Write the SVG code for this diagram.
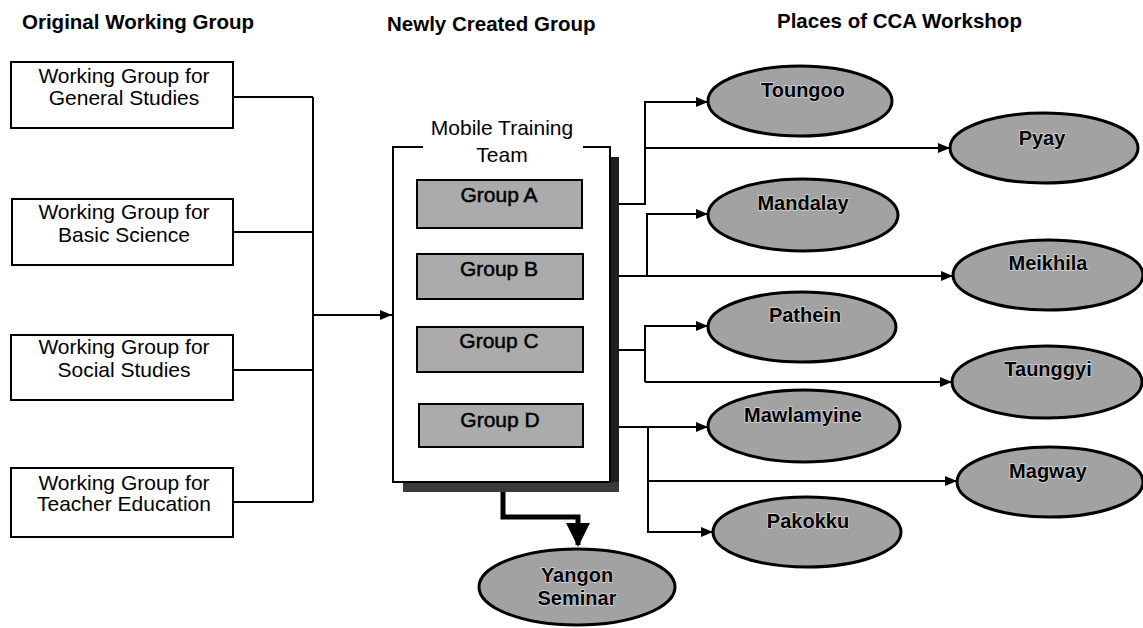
<svg xmlns="http://www.w3.org/2000/svg" width="1143" height="628" viewBox="0 0 1143 628">
  <style>
    .head { font-family: "Liberation Sans", Arial, sans-serif; font-weight: bold; font-size: 20.5px; fill: #000; }
    .wg { font-family: "Liberation Sans", Arial, sans-serif; font-size: 21px; fill: #000; text-anchor: middle; }
    .box { fill: #fff; stroke: #000; stroke-width: 2; }
    .grp { fill: #ababab; stroke: #000; stroke-width: 2; }
    .grpt { font-family: "Liberation Sans", Arial, sans-serif; font-size: 21px; fill: #000; stroke: #000; stroke-width: 0.5; text-anchor: middle; }
    .place { fill: #a2a2a2; stroke: #000; stroke-width: 3; }
    .placet { font-family: "Liberation Sans", Arial, sans-serif; font-weight: bold; font-size: 20px; fill: #000; text-anchor: middle; stroke: #d8d8d8; stroke-width: 1.5; paint-order: stroke; }
    .link { fill: none; stroke: #000; stroke-width: 2; }
    .thick { fill: none; stroke: #000; stroke-width: 5; }
  </style>
  <defs>
    <marker id="arrow" viewBox="0 0 12 10" refX="12" refY="5" markerWidth="12" markerHeight="10" markerUnits="userSpaceOnUse" orient="auto">
      <path d="M0,0 L12,5 L0,10 Z" fill="#000"/>
    </marker>
    <marker id="bigArrow" viewBox="0 0 24 24" refX="22" refY="12" markerWidth="24" markerHeight="24" markerUnits="userSpaceOnUse" orient="auto">
      <path d="M0,0 L24,12 L0,24 Z" fill="#000"/>
    </marker>
  </defs>

  <!-- column headings -->
  <g id="headings">
    <text class="head" x="22" y="29">Original Working Group</text>
    <text class="head" x="387" y="31">Newly Created Group</text>
    <text class="head" x="777" y="28">Places of CCA Workshop</text>
  </g>

  <!-- connectors -->
  <g id="connectors">
    <!-- working groups merge into the training team -->
    <path class="link" d="M233,97 H313 M233,232 H313 M233,370 H313 M233,502 H313 M313,97 V502"/>
    <path class="link" d="M313,315 H392" marker-end="url(#arrow)"/>
    <!-- Group A -->
    <path class="link" d="M582,204 H645 V102 H708" marker-end="url(#arrow)"/>
    <path class="link" d="M645,148 H950" marker-end="url(#arrow)"/>
    <!-- Group B -->
    <path class="link" d="M583,276 H953" marker-end="url(#arrow)"/>
    <path class="link" d="M647,276 V214 H708" marker-end="url(#arrow)"/>
    <!-- Group C -->
    <path class="link" d="M583,350 H645"/>
    <path class="link" d="M645,382 V326 H708" marker-end="url(#arrow)"/>
    <path class="link" d="M645,382 H952" marker-end="url(#arrow)"/>
    <!-- Group D -->
    <path class="link" d="M583,427 H708" marker-end="url(#arrow)"/>
    <path class="link" d="M648,427 V532 H713" marker-end="url(#arrow)"/>
    <path class="link" d="M648,481 H957" marker-end="url(#arrow)"/>
    <!-- team to seminar -->
    <path class="thick" d="M503,482 V517 H578 V545" marker-end="url(#bigArrow)"/>
  </g>

  <!-- original working groups -->
  <g id="wg-general">
    <rect class="box" x="11" y="62" width="222" height="66"/>
    <text class="wg" x="124" y="83">Working Group for</text>
    <text class="wg" x="124" y="105">General Studies</text>
  </g>
  <g id="wg-science">
    <rect class="box" x="12" y="199" width="221" height="66"/>
    <text class="wg" x="124" y="219">Working Group for</text>
    <text class="wg" x="124" y="242">Basic Science</text>
  </g>
  <g id="wg-social">
    <rect class="box" x="11" y="335" width="222" height="65"/>
    <text class="wg" x="124" y="354">Working Group for</text>
    <text class="wg" x="124" y="377">Social Studies</text>
  </g>
  <g id="wg-teacher">
    <rect class="box" x="11" y="468" width="222" height="69"/>
    <text class="wg" x="124" y="490">Working Group for</text>
    <text class="wg" x="124" y="511">Teacher Education</text>
  </g>

  <!-- mobile training team container -->
  <g id="mobile-team">
    <rect x="610" y="157" width="9" height="335" fill="#1e1e1e"/>
    <rect x="403" y="482" width="216" height="10" fill="#3a3a3a"/>
    <rect x="393" y="147" width="217" height="335" fill="#fff"/>
    <path class="link" d="M423,147 H393 V482 H610 V147 H583"/>
    <text class="wg" x="502" y="135">Mobile Training</text>
    <text class="wg" x="502" y="162">Team</text>
  </g>
  <g id="group-a">
    <rect class="grp" x="417" y="180" width="165" height="48"/>
    <text class="grpt" x="499" y="202">Group A</text>
  </g>
  <g id="group-b">
    <rect class="grp" x="417" y="254" width="166" height="45"/>
    <text class="grpt" x="499" y="276">Group B</text>
  </g>
  <g id="group-c">
    <rect class="grp" x="417" y="327" width="166" height="45"/>
    <text class="grpt" x="499" y="348">Group C</text>
  </g>
  <g id="group-d">
    <rect class="grp" x="419" y="404" width="164" height="43"/>
    <text class="grpt" x="500" y="427">Group D</text>
  </g>

  <!-- workshop places -->
  <g id="toungoo">
    <ellipse class="place" cx="800" cy="101" rx="92" ry="35"/>
    <text class="placet" x="803" y="97">Toungoo</text>
  </g>
  <g id="pyay">
    <ellipse class="place" cx="1044" cy="148" rx="94" ry="35"/>
    <text class="placet" x="1042" y="145">Pyay</text>
  </g>
  <g id="mandalay">
    <ellipse class="place" cx="803" cy="215" rx="95" ry="36"/>
    <text class="placet" x="803" y="210">Mandalay</text>
  </g>
  <g id="meikhila">
    <ellipse class="place" cx="1048" cy="275" rx="95" ry="35"/>
    <text class="placet" x="1048" y="270">Meikhila</text>
  </g>
  <g id="pathein">
    <ellipse class="place" cx="802" cy="327" rx="94" ry="35"/>
    <text class="placet" x="805" y="322">Pathein</text>
  </g>
  <g id="taunggyi">
    <ellipse class="place" cx="1047" cy="382" rx="95" ry="36"/>
    <text class="placet" x="1048" y="376">Taunggyi</text>
  </g>
  <g id="mawlamyine">
    <ellipse class="place" cx="804" cy="426" rx="96" ry="36"/>
    <text class="placet" x="803" y="422">Mawlamyine</text>
  </g>
  <g id="magway">
    <ellipse class="place" cx="1050" cy="482" rx="93" ry="35"/>
    <text class="placet" x="1048" y="478">Magway</text>
  </g>
  <g id="pakokku">
    <ellipse class="place" cx="807" cy="532" rx="94" ry="35"/>
    <text class="placet" x="808" y="528">Pakokku</text>
  </g>
  <g id="yangon-seminar">
    <ellipse class="place" cx="577" cy="587" rx="98" ry="38" stroke-width="5"/>
    <text class="placet" x="577" y="582">Yangon</text>
    <text class="placet" x="577" y="605">Seminar</text>
  </g>
</svg>
